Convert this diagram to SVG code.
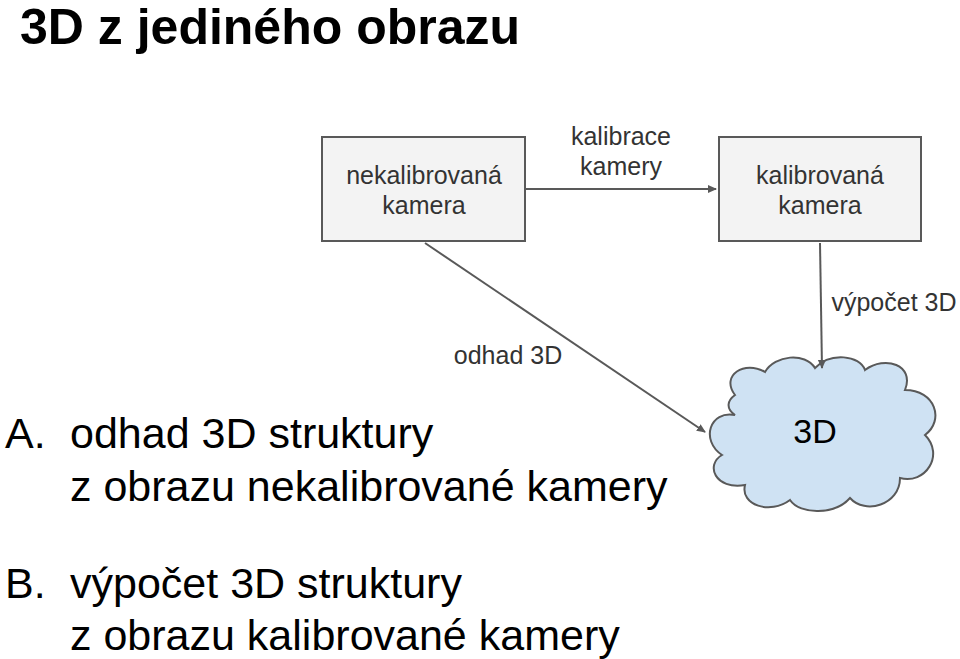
<svg xmlns="http://www.w3.org/2000/svg" width="960" height="659" viewBox="0 0 960 659">
<defs><marker id="ah" markerWidth="10" markerHeight="10" refX="8" refY="5" orient="auto" markerUnits="userSpaceOnUse"><path d="M0,1 L9,5 L0,9 Z" fill="#595959"/></marker>
<style>.box{fill:#f3f3f3;stroke:#595959;stroke-width:2}.t{font-family:"Liberation Sans",Arial,sans-serif;fill:#000}.s{font-size:25px;fill:#333;text-anchor:middle}.big{font-size:43px}.ln{stroke:#595959;stroke-width:2;fill:none}</style></defs>
<text class="t" x="20" y="44" font-size="50" font-weight="bold">3D z jediného obrazu</text>
<g id="n1"><rect class="box" x="322" y="137" width="203" height="104"/><text class="t s" x="424" y="184">nekalibrovaná</text><text class="t s" x="424" y="214">kamera</text></g>
<g id="n2"><rect class="box" x="719" y="137" width="202" height="104"/><text class="t s" x="820" y="184">kalibrovaná</text><text class="t s" x="820" y="214">kamera</text></g>
<g id="n3"><path d="M735,395 C720,375 745,360 765,372 C775,355 805,352 815,368 C830,352 860,355 865,370 C885,355 915,365 905,390 C935,390 945,420 925,435 C945,455 925,485 900,478 C900,505 865,515 850,498 C835,515 800,515 790,500 C770,515 740,505 745,485 C715,490 705,465 722,455 C700,440 710,410 735,415 C725,408 728,400 735,395 Z" fill="#cfe2f3" stroke="#595959" stroke-width="2"/><text class="t" x="815" y="443" font-size="34" text-anchor="middle" fill="#222">3D</text></g>
<g id="edges">
<line class="ln" x1="525" y1="189" x2="716" y2="189" marker-end="url(#ah)"/>
<line class="ln" x1="425" y1="243" x2="705" y2="432" marker-end="url(#ah)"/>
<line class="ln" x1="820" y1="243" x2="822" y2="368" marker-end="url(#ah)"/>
<text class="t s" x="621" y="145">kalibrace</text><text class="t s" x="621" y="175">kamery</text>
<text class="t s" x="508" y="364">odhad 3D</text>
<text class="t s" x="894" y="311">výpočet 3D</text>
</g>
<text class="t big" x="5" y="448">A.</text><text class="t big" x="70" y="448">odhad 3D struktury</text><text class="t big" x="70" y="501">z obrazu nekalibrované kamery</text>
<text class="t big" x="5" y="598">B.</text><text class="t big" x="70" y="598">výpočet 3D struktury</text><text class="t big" x="70" y="650">z obrazu kalibrované kamery</text>
</svg>
